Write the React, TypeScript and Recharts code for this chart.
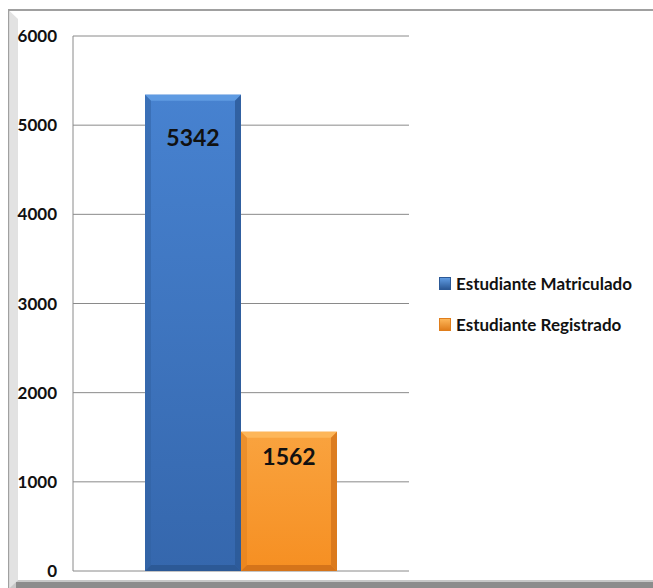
import React from "react";
import { BarChart, Bar, XAxis, YAxis, CartesianGrid, LabelList } from "recharts";

const categories = ["Estudiantes"];
const matriculados = [5342];
const registrados = [1562];
const yTicks = [0, 1000, 2000, 3000, 4000, 5000, 6000];
const seriesNames = ["Estudiante Matriculado", "Estudiante Registrado"];

const data = categories.map((c, i) => ({
  name: c,
  matriculado: matriculados[i],
  registrado: registrados[i],
}));

const FONT = "Lato, 'Open Sans', sans-serif";

const palette: Record<string, { main: string; top: string; light: string; dark: string; side: string }> = {
  blue: { main: "#3567ad", top: "#5f9be2", light: "#4782d0", dark: "#2c5996", side: "#30609f" },
  orange: { main: "#f68f22", top: "#fdb659", light: "#f9a33f", dark: "#d5741a", side: "#e07e1c" },
};

const BevelBar = (kind: string) => (props: any) => {
  const { x, y, width, height } = props;
  if (!height || height <= 0) return null;
  const c = palette[kind];
  const b = 6;
  const id = "g-" + kind;
  return (
    <g>
      <defs>
        <linearGradient id={id} x1="0" y1="0" x2="0" y2="1">
          <stop offset="0%" stopColor={c.light} />
          <stop offset="100%" stopColor={c.main} />
        </linearGradient>
      </defs>
      <rect x={x} y={y} width={width} height={height} fill={`url(#${id})`} />
      <polygon points={`${x},${y} ${x + width},${y} ${x + width - b},${y + b} ${x + b},${y + b}`} fill={c.top} />
      <polygon points={`${x},${y} ${x + b},${y + b} ${x + b},${y + height - b} ${x},${y + height}`} fill={c.side} opacity={0.5} />
      <polygon points={`${x + width},${y} ${x + width - b},${y + b} ${x + width - b},${y + height - b} ${x + width},${y + height}`} fill={c.dark} opacity={0.8} />
      <polygon points={`${x},${y + height} ${x + b},${y + height - b} ${x + width - b},${y + height - b} ${x + width},${y + height}`} fill={c.dark} />
    </g>
  );
};

const legendSwatches = [
  { a: "#5f9be2", b: "#2c5996" },
  { a: "#fdb659", b: "#e07e1c" },
];

export default function App() {
  return (
    <div style={{ position: "absolute", left: 0, top: 0, width: 653, height: 588, overflow: "hidden", background: "#fff" }}>
      <svg width={653} height={588} style={{ position: "absolute", left: 0, top: 0 }}>
        <rect x={8} y={9} width={645} height={2} fill="#a0a0a0" />
        <rect x={8} y={9} width={1.5} height={579} fill="#a0a0a0" />
        <polygon points="9.5,11 18,19 18,580 9.5,588" fill="#e2e2e2" />
        <polygon points="9.5,588 18,580 653,580 653,588" fill="#c8c8c8" />
        <rect x={16} y={582} width={637} height={6} fill="#8c8c8c" />
      </svg>
      <div style={{ position: "absolute", left: 0, top: 0 }}>
        <BarChart
          width={653}
          height={588}
          data={data}
          margin={{ top: 36, right: 244, bottom: 17, left: 0 }}
          barGap={0}
          barCategoryGap={72}
        >
          <CartesianGrid vertical={false} stroke="#8a8a8a" />
          <XAxis dataKey="name" hide />
          <YAxis
            width={73}
            domain={[0, 6000]}
            ticks={yTicks}
            interval={0}
            tickLine={false}
            axisLine={{ stroke: "#8a8a8a" }}
            tickMargin={10}
            tick={{ fill: "#111", fontFamily: FONT, fontWeight: "bold", fontSize: 17 }}
          />
          <Bar dataKey="matriculado" name={seriesNames[0]} fill="#3567ad" shape={BevelBar("blue")} isAnimationActive={false}>
            <LabelList
              dataKey="matriculado"
              position="insideTop"
              offset={35}
              fill="#111"
              fontFamily={FONT}
              fontWeight="bold"
              fontSize={23}
            />
          </Bar>
          <Bar dataKey="registrado" name={seriesNames[1]} fill="#f68f22" shape={BevelBar("orange")} isAnimationActive={false}>
            <LabelList
              dataKey="registrado"
              position="insideTop"
              offset={17}
              fill="#111"
              fontFamily={FONT}
              fontWeight="bold"
              fontSize={23}
            />
          </Bar>
        </BarChart>
      </div>
      <div
        style={{
          position: "absolute",
          left: 439,
          top: 263,
          fontFamily: FONT,
          fontWeight: "bold",
          fontSize: 17,
          color: "#111",
          whiteSpace: "nowrap",
        }}
      >
        {seriesNames.map((label, i) => (
          <div key={label} style={{ display: "flex", alignItems: "center", height: 41 }}>
            <span
              style={{
                display: "inline-block",
                width: 10,
                height: 11,
                marginRight: 5,
                background: `linear-gradient(${legendSwatches[i].a}, ${legendSwatches[i].b})`,
                border: "1px solid " + legendSwatches[i].b,
              }}
            />
            {label}
          </div>
        ))}
      </div>
    </div>
  );
}
